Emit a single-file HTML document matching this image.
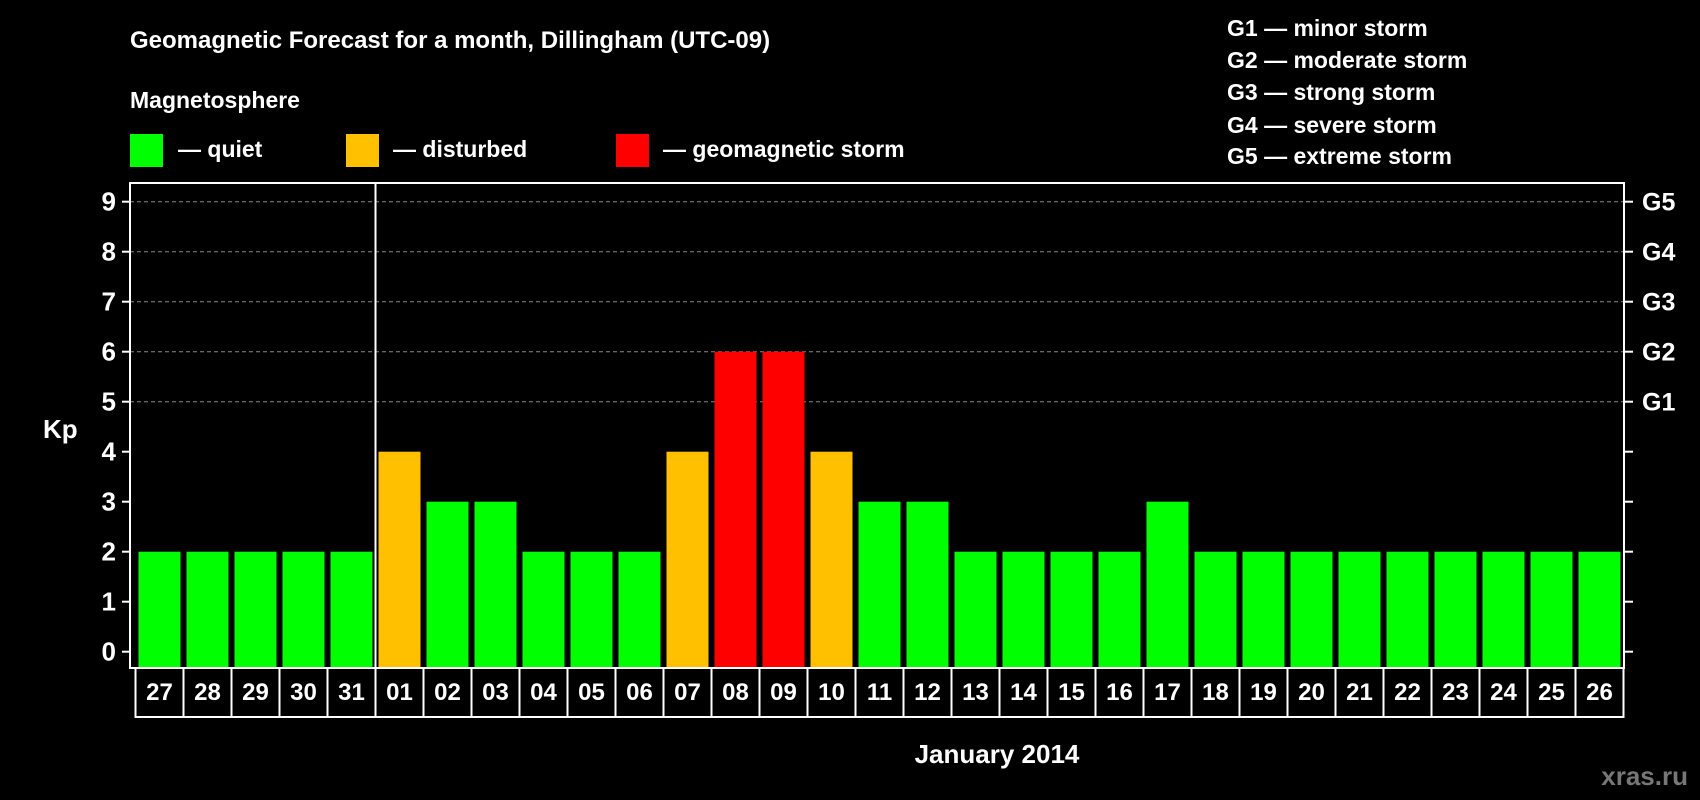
<!DOCTYPE html>
<html><head><meta charset="utf-8"><style>
html,body{margin:0;padding:0;background:#000;}
svg{display:block;font-family:"Liberation Sans",Arial,sans-serif;font-weight:bold;}
</style></head><body>
<svg id="chart" width="1700" height="800" viewBox="0 0 1700 800" xmlns="http://www.w3.org/2000/svg">
<rect width="1700" height="800" fill="#000"/>
<text x="130" y="48" fill="#fff" font-size="24">Geomagnetic Forecast for a month, Dillingham (UTC-09)</text>
<text x="130" y="108" fill="#fff" font-size="23">Magnetosphere</text>
<g><rect x="130" y="134" width="33" height="33" fill="#00ff00"/><text x="178" y="157" fill="#fff" font-size="23">— quiet</text></g>
<g><rect x="346" y="134" width="33" height="33" fill="#ffc000"/><text x="393" y="157" fill="#fff" font-size="23">— disturbed</text></g>
<g><rect x="616" y="134" width="33" height="33" fill="#ff0000"/><text x="663" y="157" fill="#fff" font-size="23">— geomagnetic storm</text></g>
<g fill="#fff" font-size="23">
<text x="1227" y="36">G1 — minor storm</text>
<text x="1227" y="68">G2 — moderate storm</text>
<text x="1227" y="100">G3 — strong storm</text>
<text x="1227" y="133">G4 — severe storm</text>
<text x="1227" y="164">G5 — extreme storm</text>
</g>
<text x="43" y="438" fill="#fff" font-size="26">Kp</text>
<text x="997" y="763" fill="#fff" font-size="26" text-anchor="middle">January 2014</text>
<text x="1688" y="785" fill="#777" font-size="26" text-anchor="end">xras.ru</text>
<g id="grid"></g><g id="bars"></g><g id="axes"></g><g id="dates"></g>
</svg>
<script>
const days=["27","28","29","30","31","01","02","03","04","05","06","07","08","09","10","11","12","13","14","15","16","17","18","19","20","21","22","23","24","25","26"];
const kp=[2,2,2,2,2,4,3,3,2,2,2,4,6,6,4,3,3,2,2,2,2,3,2,2,2,2,2,2,2,2,2];
const yTicks=[0,1,2,3,4,5,6,7,8,9];
const gLabels=["","","","","","G1","G2","G3","G4","G5"];
const NS="http://www.w3.org/2000/svg";
const x0=135.5,cw=48,plotL=130,plotR=1624,plotT=183,plotB=668;
const y=v=>651.7-v*50;
const xc=i=>x0+i*cw;
function mk(t,a,p){const e=document.createElementNS(NS,t);for(const k in a)e.setAttribute(k,a[k]);p.appendChild(e);return e;}
const grid=document.getElementById('grid'),bars=document.getElementById('bars'),axes=document.getElementById('axes'),dates=document.getElementById('dates');
yTicks.forEach((v,i)=>{
 if(v>=5){const l=mk('line',{x1:plotL,x2:plotR,y1:y(v),y2:y(v),stroke:'#888','stroke-width':1,'stroke-dasharray':'4,3'},grid);
 
 }
 const t=mk('text',{x:116,y:y(v)+9,fill:'#fff','font-size':26,'text-anchor':'end'},axes);t.textContent=v;
 
 
 mk('line',{x1:122,x2:plotL,y1:y(v),y2:y(v),stroke:'#fff','stroke-width':2},axes);
 mk('line',{x1:plotR,x2:plotR+9,y1:y(v),y2:y(v),stroke:'#fff','stroke-width':2},axes);
 if(gLabels[i]){const g=mk('text',{x:1642,y:y(v)+9,fill:'#fff','font-size':25},axes);g.textContent=gLabels[i];
 
 }
});
kp.forEach((v,i)=>{
 const c=v>=5?'#ff0000':(v>=4?'#ffc000':'#00ff00');
 const r=mk('rect',{x:xc(i)+3,y:y(v),width:42,height:y(0)-y(v)+16,fill:c},bars);
 
 
});
const frame=mk('rect',{x:plotL,y:plotT,width:plotR-plotL,height:plotB-plotT,fill:'none',stroke:'#fff','stroke-width':2},axes);


const div=mk('line',{x1:xc(5),x2:xc(5),y1:plotT,y2:plotB,stroke:'#fff','stroke-width':2},axes);


days.forEach((d,i)=>{
 mk('rect',{x:xc(i),y:plotB,width:cw,height:49,fill:'#000',stroke:'#fff','stroke-width':2},dates);
 const t=mk('text',{x:xc(i)+cw/2,y:plotB+32,fill:'#fff','font-size':24,'text-anchor':'middle'},dates);t.textContent=d;
 
 
});
</script>
</body></html>
